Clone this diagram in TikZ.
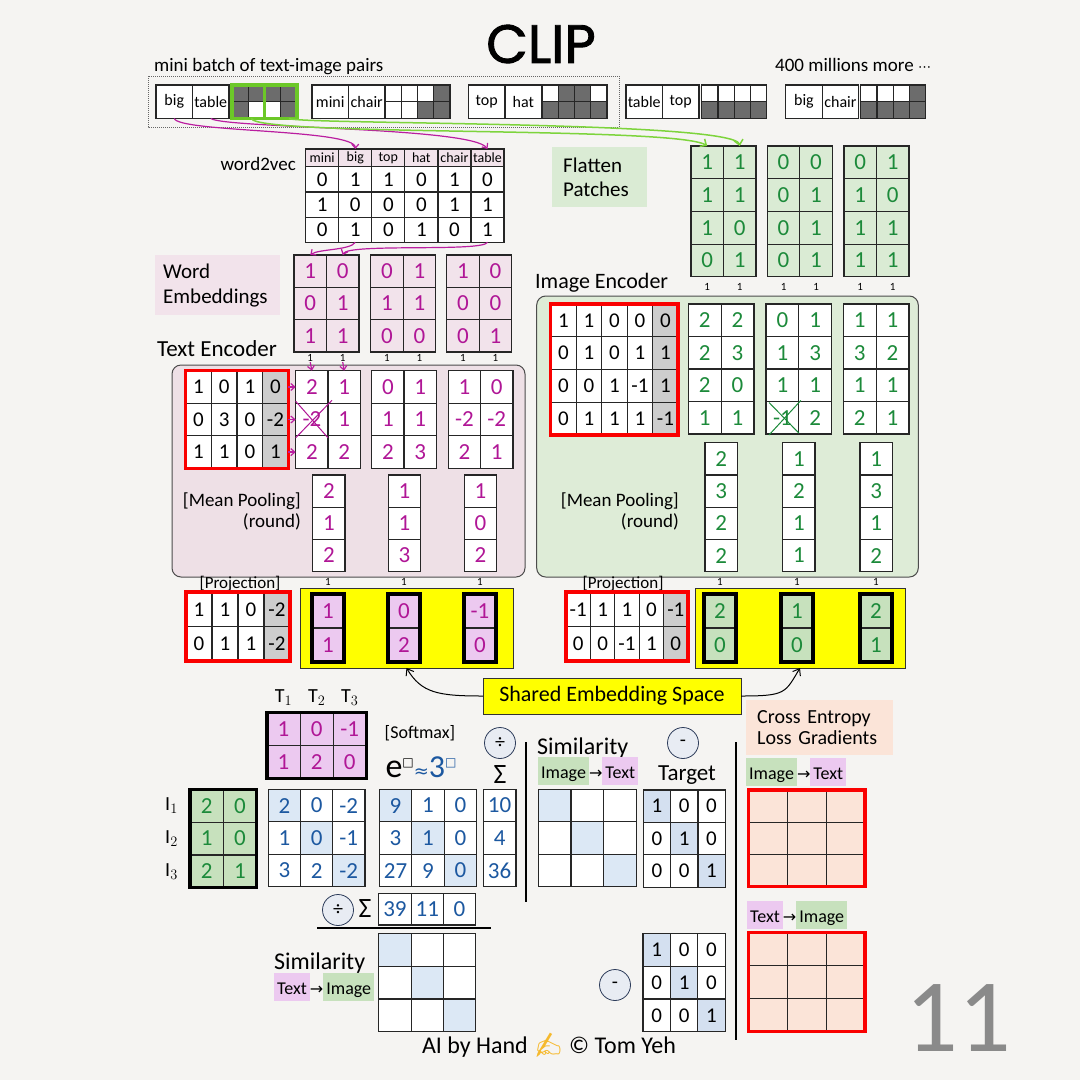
\documentclass[tikz,border=0pt]{standalone}
\usepackage{fontspec}
\setmainfont{Carlito}
\newfontfamily\symfont{DejaVu Sans}
\newfontfamily\titlefont{Poppins}[FakeBold=1.6]
\newfontfamily\emojifont{Noto Emoji}
\usetikzlibrary{arrows.meta}

\definecolor{paper}{RGB}{245,244,242}
\definecolor{inkpink}{RGB}{176,22,150}
\definecolor{inkgreen}{RGB}{28,138,58}
\definecolor{inkblue}{RGB}{28,88,160}
\definecolor{pinkbg}{RGB}{242,227,235}
\definecolor{encpink}{RGB}{238,224,230}
\definecolor{greenbg}{RGB}{218,235,212}
\definecolor{encgreen}{RGB}{222,236,215}
\definecolor{projpink}{RGB}{236,201,240}
\definecolor{projgreen}{RGB}{199,225,189}
\definecolor{biasgray}{RGB}{205,205,205}
\definecolor{bluebg}{RGB}{220,232,245}
\definecolor{targetbg}{RGB}{212,224,240}
\definecolor{peach}{RGB}{251,228,216}
\definecolor{pixdark}{RGB}{108,108,108}
\definecolor{brightgreen}{RGB}{108,200,40}
\definecolor{linegreen}{RGB}{125,212,60}
\definecolor{linepink}{RGB}{186,30,160}
\definecolor{hiyellow}{RGB}{255,255,0}
\definecolor{redframe}{RGB}{250,0,0}
\definecolor{numgray}{RGB}{138,138,138}
\definecolor{circfill}{RGB}{232,236,243}
\definecolor{circline}{RGB}{45,60,90}
\definecolor{handyellow}{RGB}{245,185,45}
\colorlet{px0}{white}
\colorlet{px1}{pixdark}

\newcommand{\fsz}[1]{\fontsize{#1}{#1}\selectfont}
\newcommand{\tagbox}[2]{{\setlength{\fboxsep}{0pt}\colorbox{#1}{\rule[-7pt]{0pt}{28pt}\,#2\,}}}

% grid of cells, named <name>-<row>-<col>
\newcommand{\mkgrid}[7]{%
  \foreach \row [count=\ri] in {#7} {
    \foreach \v [count=\ci] in \row {
      \node[cell, #6, col\ci/.try, cell\ri\ci/.try,
            minimum width=#4pt, minimum height=#5pt]
        (#1-\ri-\ci) at ({#2+(\ci-0.5)*#4},{#3+(\ri-0.5)*#5}) {\v};
    }
  }
}
% pixel image, 1 = dark
\newcommand{\mkpix}[4]{%
  \foreach \row [count=\ri] in {#4} {
    \foreach \v [count=\ci] in \row {
      \node[pixcell, fill=px\v]
        (#1-\ri-\ci) at ({#2+(\ci-0.5)*16.25},{#3+(\ri-0.5)*16.75}) {};
    }
  }
}

\tikzset{
  cell/.style={draw=black!85, line width=1.2pt, inner sep=0pt, outer sep=0pt, fill=white, font=\fsz{21}},
  hpink/.style={text=inkpink, font=\fsz{23}},
  hgreen/.style={text=inkgreen, font=\fsz{23}},
  hblue/.style={text=inkblue, font=\fsz{23}},
  biascol/.style={col#1/.style={fill=biasgray}},
  diagblue/.style={cell11/.style={fill=bluebg}, cell22/.style={fill=bluebg}, cell33/.style={fill=bluebg}},
  diagtarget/.style={cell11/.style={fill=targetbg}, cell22/.style={fill=targetbg}, cell33/.style={fill=targetbg}},
  pixcell/.style={draw=black!85, line width=1.2pt, inner sep=0pt, outer sep=0pt, minimum width=16.25pt, minimum height=16.75pt},
  wordbox/.style={draw=black!85, line width=1.2pt, fill=white, inner sep=0pt, outer sep=0pt, minimum width=36.5pt, minimum height=33.5pt, font=\fsz{16}},
  redbox/.style={draw=redframe, line width=3.5pt},
  thickbox/.style={draw=black, line width=3.5pt},
  encbox/.style={draw=black!70, line width=1pt, rounded corners=9pt, inner sep=0pt, outer sep=0pt},
  yelbox/.style={fill=hiyellow, draw=black!80, line width=0.8pt, inner sep=0pt, outer sep=0pt},
  lbl/.style={inner sep=0pt, font=\fsz{19}},
  head/.style={inner sep=0pt, font=\fsz{23}},
  onelbl/.style={inner sep=0pt, font=\fsz{11}},
  opcirc/.style={circle, draw=circline, fill=circfill, line width=0.8pt, minimum size=31pt, inner sep=0pt, font=\fsz{20}},
  pinkline/.style={linepink, line width=1.2pt, -{Straight Barb[length=4pt, width=7pt]}},
  greenline/.style={linegreen, line width=1.5pt, -{Straight Barb[length=5pt, width=9pt]}},
  blackline/.style={black, line width=1pt, -{Straight Barb[length=6pt, width=9pt]}},
}

\begin{document}
\begin{tikzpicture}[x=1pt, y=-1pt]
\fill[paper] (0,0) rectangle (1080,1080);
\useasboundingbox (0,0) rectangle (1080,1080);

% title and mini batch
\node[font=\titlefont\fsz{54}] (title) at (541,44) {CLIP};
\node[lbl, anchor=west] (batchlbl) at (154,67) {mini batch of text-image pairs};
\node[lbl, anchor=west] (morelbl) at (775,65) {400 millions more {\symfont\fsz{13}⋯}};
\draw[densely dotted, black!60, line width=1pt] (148,76) rectangle (619,127);

\node[wordbox, anchor=north west] (p1a) at (156,85) {big};
\node[wordbox, anchor=north west] (p1b) at (p1a.north east) {table};
\mkpix{img1}{232}{85}{{1,1,1,1},{1,0,0,1}}
\node[wordbox, anchor=north west] (p2a) at (312,85) {mini};
\node[wordbox, anchor=north west] (p2b) at (p2a.north east) {chair};
\mkpix{img2}{385}{85}{{0,0,0,1},{0,0,1,1}}
\node[wordbox, anchor=north west] (p3a) at (468.5,85) {top};
\node[wordbox, anchor=north west] (p3b) at (p3a.north east) {hat};
\mkpix{img3}{542}{85}{{0,1,1,0},{1,1,1,1}}
\node[wordbox, anchor=north west] (p4a) at (626,85) {table};
\node[wordbox, anchor=north west] (p4b) at (p4a.north east) {top};
\mkpix{img4}{701.7}{85}{{0,0,0,0},{1,1,1,1}}
\node[wordbox, anchor=north west] (p5a) at (785.7,85) {big};
\node[wordbox, anchor=north west] (p5b) at (p5a.north east) {chair};
\mkpix{img5}{860.7}{85}{{0,0,0,1},{1,1,1,1}}
\draw[brightgreen, line width=3.5pt] (img1-1-1.north west) rectangle (img1-2-2.south east);
\draw[brightgreen, line width=3.5pt] (img1-1-3.north west) rectangle (img1-2-4.south east);

% word2vec
\node[lbl, anchor=east] (w2vlbl) at (296,164) {word2vec};
\mkgrid{w2vh}{305.7}{149}{33.05}{17.7}{fill=pinkbg, font=\fsz{14}}{{mini,big,top,hat,chair,table}}
\mkgrid{w2v}{305.7}{166.7}{33.05}{25.2}{}{{0,1,1,0,1,0},{1,0,0,0,1,1},{0,1,0,1,0,1}}

% word embeddings
\node[fill=pinkbg, anchor=north west, minimum width=125pt, minimum height=60pt, inner xsep=8pt, inner ysep=0pt,
      text width=109pt, align=left, font=\fontsize{21}{25}\selectfont] (welbl) at (155,255) {Word\\Embeddings};
\mkgrid{em1}{294}{255}{32.5}{32.3}{hpink, fill=pinkbg}{{1,0},{0,1},{1,1}}
\mkgrid{em2}{370.7}{255}{32.5}{32.3}{hpink, fill=pinkbg}{{0,1},{1,1},{0,0}}
\mkgrid{em3}{446.7}{255}{32.5}{32.3}{hpink, fill=pinkbg}{{1,0},{0,0},{0,1}}
\foreach \m in {1,2,3} {
  \node[onelbl] (eb\m-1) at ([yshift=-6.5pt]em\m-3-1.south) {1};
  \node[onelbl] (eb\m-2) at ([yshift=-6.5pt]em\m-3-2.south) {1};
}

% text encoder
\node[head, anchor=west] (telbl) at (157,349) {Text Encoder};
\node[encbox, fill=encpink, anchor=north west, minimum width=353pt, minimum height=212pt] (tenc) at (172,365) {};
\mkgrid{tw}{185.7}{370.7}{25.65}{32.55}{biascol=4}{{1,0,1,0},{0,3,0,-2},{1,1,0,1}}
\draw[redbox] (tw-1-1.north west) rectangle (tw-3-4.south east);
\mkgrid{tm1}{295.7}{370.7}{32.3}{32.55}{hpink}{{2,1},{-2,1},{2,2}}
\mkgrid{tm2}{371.7}{370.7}{32.3}{32.55}{hpink}{{0,1},{1,1},{2,3}}
\mkgrid{tm3}{448.3}{370.7}{32.3}{32.55}{hpink}{{1,0},{-2,-2},{2,1}}
\draw[inkpink, line width=1pt] ([shift={(0pt,-2pt)}]tm1-2-1.south west) -- ([shift={(4pt,3pt)}]tm1-2-1.north east);
\draw[inkpink, line width=1pt] ([shift={(0pt,2pt)}]tm1-2-1.north west) -- ([shift={(0pt,-2pt)}]tm1-2-1.south east);
\foreach \r in {1,2,3}
  \draw[pinkline] (tw-\r-4.east) -- (tm1-\r-1.west);
\draw[pinkline] (eb1-1.south) -- (tm1-1-1.north);
\draw[pinkline] (eb1-2.south) -- (tm1-1-2.north);
\node[lbl, font=\fontsize{19}{21}\selectfont, align=right, anchor=east] (tpool) at (301,511) {[Mean Pooling]\\(round)};
\mkgrid{tp1}{312.7}{475}{32.3}{32.2}{hpink}{{2},{1},{2}}
\mkgrid{tp2}{388.3}{475}{32.3}{32.2}{hpink}{{1},{1},{3}}
\mkgrid{tp3}{464.3}{475}{32.3}{32.2}{hpink}{{1},{0},{2}}

% flatten patches
\node[fill=greenbg, anchor=north west, minimum width=95pt, minimum height=60pt, inner xsep=11pt, inner ysep=0pt,
      text width=73pt, align=left, font=\fontsize{21}{24}\selectfont] (fplbl) at (552,147) {Flatten\\Patches};
\mkgrid{fm1}{691}{146}{32.5}{32.7}{hgreen, fill=greenbg}{{1,1},{1,1},{1,0},{0,1}}
\mkgrid{fm2}{767.3}{146}{32.5}{32.7}{hgreen, fill=greenbg}{{0,0},{0,1},{0,1},{0,1}}
\mkgrid{fm3}{844}{146}{32.5}{32.7}{hgreen, fill=greenbg}{{0,1},{1,0},{1,1},{1,1}}
\foreach \m in {1,2,3} {
  \node[onelbl] (fb\m-1) at ([yshift=-10pt]fm\m-4-1.south) {1};
  \node[onelbl] (fb\m-2) at ([yshift=-10pt]fm\m-4-2.south) {1};
}

% image encoder
\node[head, font=\fsz{22}, anchor=west] (ielbl) at (535,283) {Image Encoder};
\node[encbox, fill=encgreen, anchor=north west, minimum width=381.6pt, minimum height=281pt] (ienc) at (536.7,296) {};
\mkgrid{iw}{550.7}{304}{25.5}{32.75}{biascol=5}{{1,1,0,0,0},{0,1,0,1,1},{0,0,1,-1,1},{0,1,1,1,-1}}
\draw[redbox] (iw-1-1.north west) rectangle (iw-4-5.south east);
\mkgrid{im1}{688.3}{304}{32.8}{32.5}{hgreen}{{2,2},{2,3},{2,0},{1,1}}
\mkgrid{im2}{766}{304}{32.8}{32.5}{hgreen}{{0,1},{1,3},{1,1},{-1,2}}
\mkgrid{im3}{843.3}{304}{32.8}{32.5}{hgreen}{{1,1},{3,2},{1,1},{2,1}}
\draw[inkgreen, line width=1pt] ([shift={(3pt,-1pt)}]im2-4-1.south west) -- ([shift={(2pt,1pt)}]im2-4-1.north east);
\draw[inkgreen, line width=1pt] ([shift={(3pt,-1pt)}]im2-4-1.north west) -- ([shift={(0pt,1pt)}]im2-4-1.south east);
\node[lbl, font=\fontsize{19}{21}\selectfont, align=right, anchor=east] (ipool) at (679,511) {[Mean Pooling]\\(round)};
\mkgrid{ip1}{705}{442.7}{32.3}{32.25}{hgreen}{{2},{3},{2},{2}}
\mkgrid{ip2}{782.7}{442.7}{32.3}{32.25}{hgreen}{{1},{2},{1},{1}}
\mkgrid{ip3}{860}{442.7}{32.3}{32.25}{hgreen}{{1},{3},{1},{2}}

% connectors from the mini batch
\draw[pinkline] (p1a.south) .. controls +(5,14) and +(0,-20) .. (w2vh-1-2.north);
\draw[pinkline] (p1b.south) .. controls +(15,10) and +(-15,-22) .. (w2vh-1-6.north);
\draw[greenline] ([xshift=-5pt]img1-2-2.south) .. controls +(5,18) and +(-30,-20) .. (fm1-1-1.north);
\draw[greenline] (img1-2-4.south) .. controls +(10,6) and +(-5,-25) .. (fm1-1-2.north);
\draw[pinkline] (w2v-3-2.south) .. controls +(-5,8) and +(8,-6) .. (em1-1-1.north);
\draw[pinkline] (w2v-3-6.south) .. controls +(-5,10) and +(5,-12) .. (em1-1-2.north);

% projection
\node[lbl, font=\fsz{17}] (tpjlbl) at (240,584) {[Projection]};
\mkgrid{tpj}{186}{592}{26}{34.5}{biascol=4}{{1,1,0,-2},{0,1,1,-2}}
\draw[redbox] (tpj-1-1.north west) rectangle (tpj-2-4.south east);
\node[yelbox, anchor=north west, minimum width=213pt, minimum height=80pt] (tyel) at (300,588) {};
\mkgrid{tv1}{312}{594}{32}{34}{hpink, fill=projpink}{{1},{1}}
\mkgrid{tv2}{388}{594}{32}{34}{hpink, fill=projpink}{{0},{2}}
\mkgrid{tv3}{464}{594}{32}{34}{hpink, fill=projpink}{{-1},{0}}
\foreach \m in {1,2,3} {
  \draw[thickbox] (tv\m-1-1.north west) rectangle (tv\m-2-1.south east);
  \node[onelbl] (tvone\m) at ([yshift=12pt]tv\m-1-1.north) {1};
}
\node[lbl, font=\fsz{17}] (ipjlbl) at (623,584) {[Projection]};
\mkgrid{ipj}{566}{592}{24.4}{34.5}{biascol=5}{{-1,1,1,0,-1},{0,0,-1,1,0}}
\draw[redbox] (ipj-1-1.north west) rectangle (ipj-2-5.south east);
\node[yelbox, anchor=north west, minimum width=210pt, minimum height=80pt] (iyel) at (695,588) {};
\mkgrid{iv1}{704}{594}{32}{34}{hgreen, fill=projgreen}{{2},{0}}
\mkgrid{iv2}{781}{594}{32}{34}{hgreen, fill=projgreen}{{1},{0}}
\mkgrid{iv3}{860}{594}{32}{34}{hgreen, fill=projgreen}{{2},{1}}
\foreach \m in {1,2,3} {
  \draw[thickbox] (iv\m-1-1.north west) rectangle (iv\m-2-1.south east);
  \node[onelbl] (ivone\m) at ([yshift=12pt]iv\m-1-1.north) {1};
}
\node[yelbox, minimum width=258pt, minimum height=36pt, font=\fsz{22}] (shared) at (612,696) {Shared Embedding Space};
\draw[blackline] (shared.west) .. controls +(-45,0) and +(15,25) .. (tyel.south);
\draw[blackline] (shared.east) .. controls +(45,0) and +(-15,25) .. (iyel.south);

% similarity and softmax
\mkgrid{tt}{267}{712.7}{33.1}{32.8}{hpink, fill=projpink}{{1,0,-1},{1,2,0}}
\draw[thickbox] (tt-1-1.north west) rectangle (tt-2-3.south east);
\foreach \c in {1,2,3}
  \node[inner sep=0pt, font=\fsz{20}] (tl\c) at ([yshift=15pt]tt-1-\c.north) {$\mathrm{T}_\c$};
\mkgrid{ii}{190}{789.3}{33.3}{32.8}{hgreen, fill=projgreen}{{2,0},{1,0},{2,1}}
\draw[thickbox] (ii-1-1.north west) rectangle (ii-3-2.south east);
\foreach \r in {1,2,3}
  \node[inner sep=0pt, font=\fsz{20}, anchor=east] (il\r) at ([xshift=-12pt]ii-\r-1.west) {$\mathrm{I}_\r$};
\mkgrid{sim}{268.3}{789.3}{32.2}{32.5}{hblue, diagblue}{{2,0,-2},{1,0,-1},{3,2,-2}}
\node[lbl, font=\fsz{18}] (smlbl) at (420,733) {[Softmax]};
\node[inner sep=0pt] (smform) at (421,767) {\fsz{34}e\raisebox{11pt}{\symfont\fsz{12}□}{\color{inkblue}\symfont\fsz{18}≈\fontspec{Carlito}\fsz{32}3\raisebox{11pt}{\symfont\fsz{12}□}}};
\mkgrid{ex}{379.3}{789.3}{32.5}{32.5}{hblue, diagblue}{{9,1,0},{3,1,0},{27,9,0}}
\node[opcirc] (rdiv) at (500,743) {÷};
\node[inner sep=0pt, font=\fsz{28}] (rsig) at (500,775) {Σ};
\mkgrid{rs}{483.3}{789.3}{32.7}{32.5}{hblue}{{10},{4},{36}}
\node[opcirc] (cdiv) at (338,910) {÷};
\node[inner sep=0pt, font=\fsz{28}] (csig) at (365,909) {Σ};
\mkgrid{cs}{378.8}{893.3}{32.3}{31.7}{hblue}{{39,11,0}}
\draw[line width=2pt] (317,928) -- (491,928);
\draw[line width=2pt] (526,742) -- (526,902);

% image -> text
\node[lbl, font=\fsz{24}, anchor=west] (simit) at (537,748) {Similarity};
\node[lbl, font=\fsz{18}, anchor=west] (itlbl) at (538,771) {\tagbox{projgreen}{Image}{\symfont\fsz{16}→}\tagbox{projpink}{Text}};
\mkgrid{sit}{538.3}{789.3}{32.6}{32.5}{diagblue}{{~,~,~},{~,~,~},{~,~,~}}
\node[opcirc] (minus1) at (683,743) {-};
\node[lbl, font=\fsz{23}] (tgtlbl) at (687,775) {Target};
\mkgrid{tg1}{643.3}{790}{27.3}{32.4}{diagtarget}{{1,0,0},{0,1,0},{0,0,1}}
\draw[line width=2pt] (736,742) -- (736,1040);
\node[fill=peach, anchor=north west, minimum width=147pt, minimum height=55pt, inner xsep=11pt, inner ysep=0pt,
      text width=125pt, align=left, font=\fontsize{20}{21}\selectfont] (celbl) at (746,700) {Cross Entropy\\Loss Gradients};
\node[lbl, font=\fsz{18}, anchor=west] (gitlbl) at (746,772) {\tagbox{projgreen}{Image}{\symfont\fsz{16}→}\tagbox{projpink}{Text}};
\mkgrid{git}{748.3}{790}{38.9}{32.2}{fill=peach}{{~,~,~},{~,~,~},{~,~,~}}
\draw[redbox] (git-1-1.north west) rectangle (git-3-3.south east);

% text -> image
\node[lbl, font=\fsz{24}, anchor=west] (simti) at (274,963) {Similarity};
\node[lbl, font=\fsz{18}, anchor=west] (tilbl) at (274,987) {\tagbox{projpink}{Text}{\symfont\fsz{16}→}\tagbox{projgreen}{Image}};
\mkgrid{sti}{378.8}{933.3}{32.3}{32.8}{diagblue}{{~,~,~},{~,~,~},{~,~,~}}
\node[opcirc] (minus2) at (615,985) {-};
\mkgrid{tg2}{643}{933.3}{27.4}{32.8}{diagtarget}{{1,0,0},{0,1,0},{0,0,1}}
\node[lbl, font=\fsz{18}, anchor=west] (gtilbl) at (747,915) {\tagbox{projpink}{Text}{\symfont\fsz{16}→}\tagbox{projgreen}{Image}};
\mkgrid{gti}{748.6}{932.7}{38.8}{33}{fill=peach}{{~,~,~},{~,~,~},{~,~,~}}
\draw[redbox] (gti-1-1.north west) rectangle (gti-3-3.south east);

% footer
\node[lbl, font=\fsz{24}] (credit) at (549,1045) {AI by Hand {\emojifont\color{handyellow}✍} © Tom Yeh};
\node[inner sep=0pt, text=numgray, font=\fsz{104}] (pagenum) at (958,1018) {11};
\end{tikzpicture}
\end{document}
